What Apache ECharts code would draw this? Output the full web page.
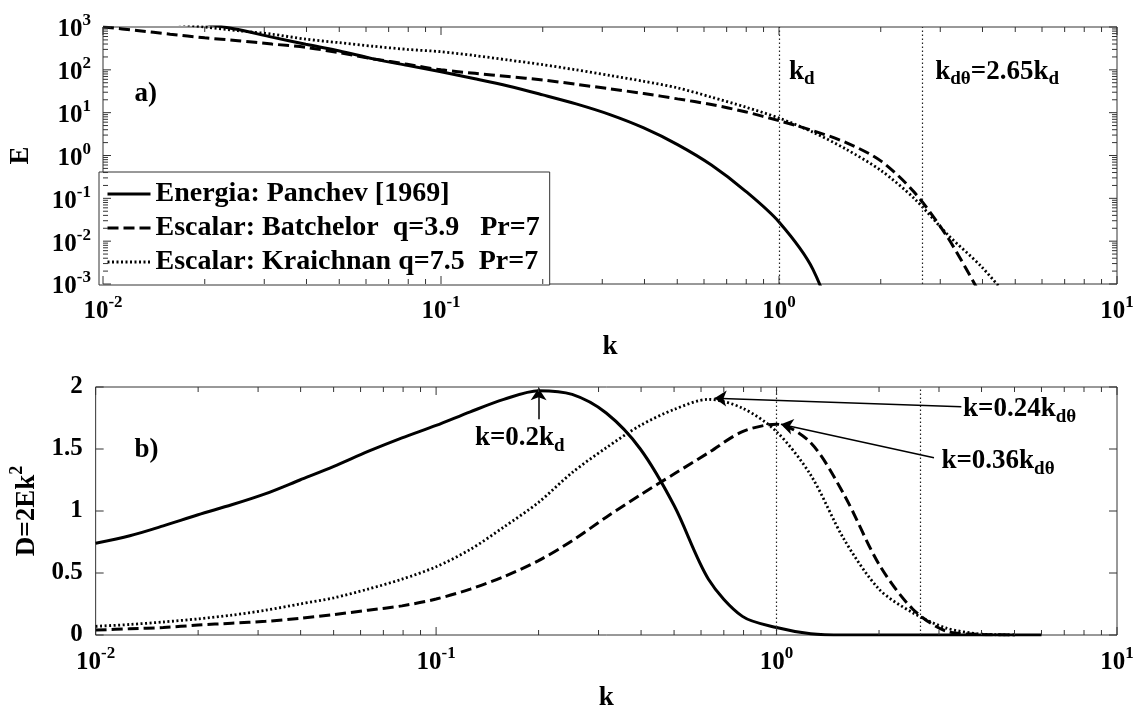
<!DOCTYPE html>
<html>
<head>
<meta charset="utf-8">
<script src="https://cdn.jsdelivr.net/npm/echarts@6/dist/echarts.min.js"></script>
<style>
  html, body { margin: 0; padding: 0; background: #fff; }
  #chart { width: 1140px; height: 713px; }
</style>
</head>
<body>
<div id="chart"></div>
<script>
// wavenumbers, ten samples per decade (last one is where the energy curve of panel b stops)
const kGrid = [0.01, 0.0126, 0.0158, 0.02, 0.0251, 0.0316, 0.0398, 0.0501, 0.0631, 0.0794,
               0.1, 0.126, 0.158, 0.2, 0.251, 0.316, 0.398, 0.501, 0.631, 0.794,
               1.0, 1.26, 1.58, 2.0, 2.51, 3.16, 3.98, 5.01, 6.0];

// ---- spectra E(k), panel a ----
const panchevE   = [3600, 2500, 1750, 1200, 870, 580, 395, 275, 180, 127,
                    90, 62, 42, 26, 16, 9, 4.4, 1.8, 0.6, 0.15,
                    0.028, 0.0022, 0.00002, null, null, null, null, null, null];
const batchelorE = [1000, 830, 680, 560, 480, 400, 335, 250, 180, 135,
                    100, 83, 70, 58, 46, 36, 28, 21, 15.5, 10.5,
                    6.5, 3.8, 2.0, 0.75, 0.14, 0.012, 0.0005, null, null];
const kraichnanE = [2000, 1550, 1250, 1000, 820, 680, 520, 430, 355, 300,
                    265, 215, 170, 132, 100, 74, 54, 38, 23, 13.6,
                    7.5, 3.5, 1.4, 0.45, 0.1, 0.014, 0.0025, 0.0003, null];

// ---- dissipation D = 2Ek^2, panel b ----
const panchevD   = [0.74, 0.80, 0.88, 0.97, 1.05, 1.14, 1.25, 1.36, 1.48, 1.59,
                    1.69, 1.80, 1.90, 1.97, 1.94, 1.79, 1.50, 1.04, 0.45, 0.15,
                    0.06, 0.01, 0, 0, 0, 0, 0, 0, 0];
const batchelorD = [0.04, 0.05, 0.06, 0.08, 0.095, 0.11, 0.135, 0.165, 0.20, 0.235,
                    0.29, 0.37, 0.47, 0.60, 0.76, 0.95, 1.13, 1.30, 1.47, 1.64,
                    1.70, 1.55, 1.13, 0.57, 0.21, 0.03, 0.005, 0, null];
const kraichnanD = [0.07, 0.085, 0.105, 0.13, 0.16, 0.20, 0.25, 0.30, 0.37, 0.45,
                    0.55, 0.69, 0.87, 1.07, 1.31, 1.51, 1.69, 1.82, 1.90, 1.83,
                    1.64, 1.29, 0.77, 0.37, 0.18, 0.055, 0.008, 0, null];

// ---- names, reference wavenumbers, tick values ----
const seriesNames = ['Energia: Panchev [1969]', 'Escalar: Batchelor  q=3.9   Pr=7', 'Escalar: Kraichnan q=7.5  Pr=7'];
const kd = 1.0;
const kdTheta = 2.65;
const kDecades = [0.01, 0.1, 1, 10];
const eDecades = [1e-3, 1e-2, 1e-1, 1, 10, 100, 1000];
const dTicks = [0, 0.5, 1, 1.5, 2];

function minorBetween(decades) {
  const out = [];
  for (let i = 0; i < decades.length - 1; i++) {
    for (let m = 2; m <= 9; m++) out.push(+(m * decades[i]).toPrecision(6));
  }
  return out;
}
const kMinor = minorBetween(kDecades);
const eMinor = minorBetween(eDecades);

const FONT = "'Liberation Serif', 'Times New Roman', serif";
const pairs = ys => kGrid.map((k, i) => [k, ys[i]]);

const powRich = {
  b: { fontFamily: FONT, fontWeight: 'bold', fontSize: 25, color: '#000', padding: [6, 0, 0, 0] },
  s: { fontFamily: FONT, fontWeight: 'bold', fontSize: 17, color: '#000', padding: [0, 0, 12, 0] }
};
const powLabel = v => '{b|10}{s|' + Math.round(Math.log10(v)) + '}';

const annRich = {
  m: { fontFamily: FONT, fontWeight: 'bold', fontSize: 27, color: '#000' },
  s: { fontFamily: FONT, fontWeight: 'bold', fontSize: 19, color: '#000', padding: [16, 0, 0, 0] }
};

const LINE_TYPES = { solid: 'solid', dashed: [11, 5], dotted: [2, 2.5] };
const lineWidthOf = type => (type === 'dotted' ? 2.8 : 3);

function lineSeries(name, grid, data, type) {
  return {
    name, type: 'line', xAxisIndex: grid, yAxisIndex: grid, data,
    showSymbol: false, symbol: 'none', smooth: 0.3, clip: true, connectNulls: false,
    lineStyle: { color: '#000', width: lineWidthOf(type), type: LINE_TYPES[type] },
    itemStyle: { color: '#000' },
    emphasis: { disabled: true }, z: 3
  };
}

// tick marks drawn inward on every side of a panel
function tickLayer(grid, values, dir, len, ref) {
  return {
    type: 'custom', xAxisIndex: grid, yAxisIndex: grid, silent: true, z: 6, clip: false,
    data: values.map(v => dir === 'x' ? [v, ref] : [ref, v]),
    renderItem(params, api) {
      const cs = params.coordSys;
      const p = api.coord([api.value(0), api.value(1)]);
      const st = { stroke: '#333', lineWidth: 1 };
      if (dir === 'x') {
        const b = cs.y + cs.height;
        return { type: 'group', children: [
          { type: 'line', shape: { x1: p[0], y1: b, x2: p[0], y2: b - len }, style: st },
          { type: 'line', shape: { x1: p[0], y1: cs.y, x2: p[0], y2: cs.y + len }, style: st }
        ]};
      }
      const r = cs.x + cs.width;
      return { type: 'group', children: [
        { type: 'line', shape: { x1: cs.x, y1: p[1], x2: cs.x + len, y2: p[1] }, style: st },
        { type: 'line', shape: { x1: r, y1: p[1], x2: r - len, y2: p[1] }, style: st }
      ]};
    }
  };
}

const guideLines = {
  silent: true, symbol: 'none', animation: false,
  label: { show: false },
  lineStyle: { color: '#222', width: 1.2, type: [1.5, 2.5] },
  data: [{ xAxis: kd }, { xAxis: kdTheta }]
};

function textMarks(items) {
  return {
    symbol: 'circle', symbolSize: 0, silent: true, animation: false,
    label: { show: true, position: 'right', distance: 0, rich: annRich },
    data: items.map(a => ({ coord: a.at, value: 0, label: { formatter: a.text } }))
  };
}

// arrows pointing at the maxima of the dissipation curves
const arrowPeaks = [
  { from: [0.2, 1.74], to: [0.2, 1.99] },
  { from: [3.49, 1.84], to: [0.657, 1.91] },
  { from: [2.9, 1.43], to: [1.03, 1.70] }
];

const xAxisBase = grid => ({
  type: 'log', logBase: 10, gridIndex: grid, min: 0.01, max: 10,
  axisLine: { show: false }, axisTick: { show: false }, splitLine: { show: false },
  axisLabel: { margin: 9, formatter: powLabel, rich: powRich },
  name: 'k', nameLocation: 'middle',
  nameTextStyle: { fontFamily: FONT, fontWeight: 'bold', fontSize: 27, color: '#000' }
});

const legendStyles = ['solid', 'dashed', 'dotted'];

const option = {
  animation: false,
  backgroundColor: '#fff',
  grid: [
    { left: 93, top: 27, width: 1024, height: 257, show: true, borderColor: '#333', borderWidth: 1, backgroundColor: 'transparent' },
    { left: 93, top: 387, width: 1024, height: 257, show: true, borderColor: '#333', borderWidth: 1, backgroundColor: 'transparent' }
  ],
  xAxis: [
    Object.assign(xAxisBase(0), { nameGap: 50 }),
    Object.assign(xAxisBase(1), { nameGap: 50 })
  ],
  yAxis: [
    {
      type: 'log', logBase: 10, gridIndex: 0, min: 0.001, max: 1000,
      axisLine: { show: false }, axisTick: { show: false }, splitLine: { show: false },
      axisLabel: { margin: 12, formatter: powLabel, rich: powRich },
      name: 'E', nameLocation: 'middle', nameRotate: 90, nameGap: 68,
      nameTextStyle: { fontFamily: FONT, fontWeight: 'bold', fontSize: 27, color: '#000' }
    },
    {
      type: 'value', gridIndex: 1, min: 0, max: 2, interval: 0.5,
      axisLine: { show: false }, axisTick: { show: false }, splitLine: { show: false },
      axisLabel: { margin: 13, fontFamily: FONT, fontWeight: 'bold', fontSize: 25, color: '#000' },
      name: '{m|D=2Ek}{p|2}', nameLocation: 'middle', nameRotate: 90, nameGap: 52,
      nameTextStyle: {
        rich: {
          m: { fontFamily: FONT, fontWeight: 'bold', fontSize: 27, color: '#000', padding: [8, 0, 0, 0] },
          p: { fontFamily: FONT, fontWeight: 'bold', fontSize: 18, color: '#000', padding: [0, 0, 12, 0] }
        }
      }
    }
  ],
  legend: {
    data: seriesNames.map((name, i) => ({
      name,
      lineStyle: { color: '#000', width: lineWidthOf(legendStyles[i]), type: LINE_TYPES[legendStyles[i]] }
    })),
    orient: 'vertical', left: 99, top: 172,
    itemWidth: 43, itemHeight: 14, itemGap: 6,
    padding: [8, 10, 9, 7],
    backgroundColor: '#fff', borderColor: '#333', borderWidth: 1,
    selectedMode: false,
    itemStyle: { color: 'rgba(0,0,0,0)', borderWidth: 0, opacity: 0 },
    textStyle: { fontFamily: FONT, fontWeight: 'bold', fontSize: 28, color: '#000', lineHeight: 26 }
  },
  series: [
    Object.assign(lineSeries(seriesNames[0], 0, pairs(panchevE), 'solid'), { markLine: guideLines }),
    Object.assign(lineSeries(seriesNames[1], 0, pairs(batchelorE), 'dashed'), {
      markPoint: textMarks([
        { at: [0.0124, 27], text: '{m|a)}' },
        { at: [1.07, 91], text: '{m|k}{s|d}' },
        { at: [2.9, 91], text: '{m|k}{s|d\u03b8}{m|=2.65k}{s|d}' }
      ])
    }),
    lineSeries(seriesNames[2], 0, pairs(kraichnanE), 'dotted'),

    Object.assign(lineSeries(seriesNames[0], 1, pairs(panchevD), 'solid'), { markLine: guideLines }),
    Object.assign(lineSeries(seriesNames[1], 1, pairs(batchelorD), 'dashed'), {
      markLine: {
        silent: true, animation: false, symbol: ['none', 'arrow'], symbolSize: 12,
        label: { show: false },
        lineStyle: { color: '#000', width: 1.5, type: 'solid' },
        data: arrowPeaks.map(a => [{ coord: a.from }, { coord: a.to }])
      }
    }),
    Object.assign(lineSeries(seriesNames[2], 1, pairs(kraichnanD), 'dotted'), {
      markPoint: textMarks([
        { at: [0.013, 1.49], text: '{m|b)}' },
        { at: [0.13, 1.59], text: '{m|k=0.2k}{s|d}' },
        { at: [3.53, 1.82], text: '{m|k=0.24k}{s|d\u03b8}' },
        { at: [3.05, 1.40], text: '{m|k=0.36k}{s|d\u03b8}' }
      ])
    }),

    tickLayer(0, kDecades, 'x', 8, 1),
    tickLayer(0, kMinor, 'x', 5, 1),
    tickLayer(0, eDecades, 'y', 8, 1),
    tickLayer(0, eMinor, 'y', 5, 1),
    tickLayer(1, kDecades, 'x', 8, 1),
    tickLayer(1, kMinor, 'x', 5, 1),
    tickLayer(1, dTicks, 'y', 8, 1)
  ]
};

const chart = echarts.init(document.getElementById('chart'), null, { renderer: 'canvas' });
chart.setOption(option);
</script>
</body>
</html>
